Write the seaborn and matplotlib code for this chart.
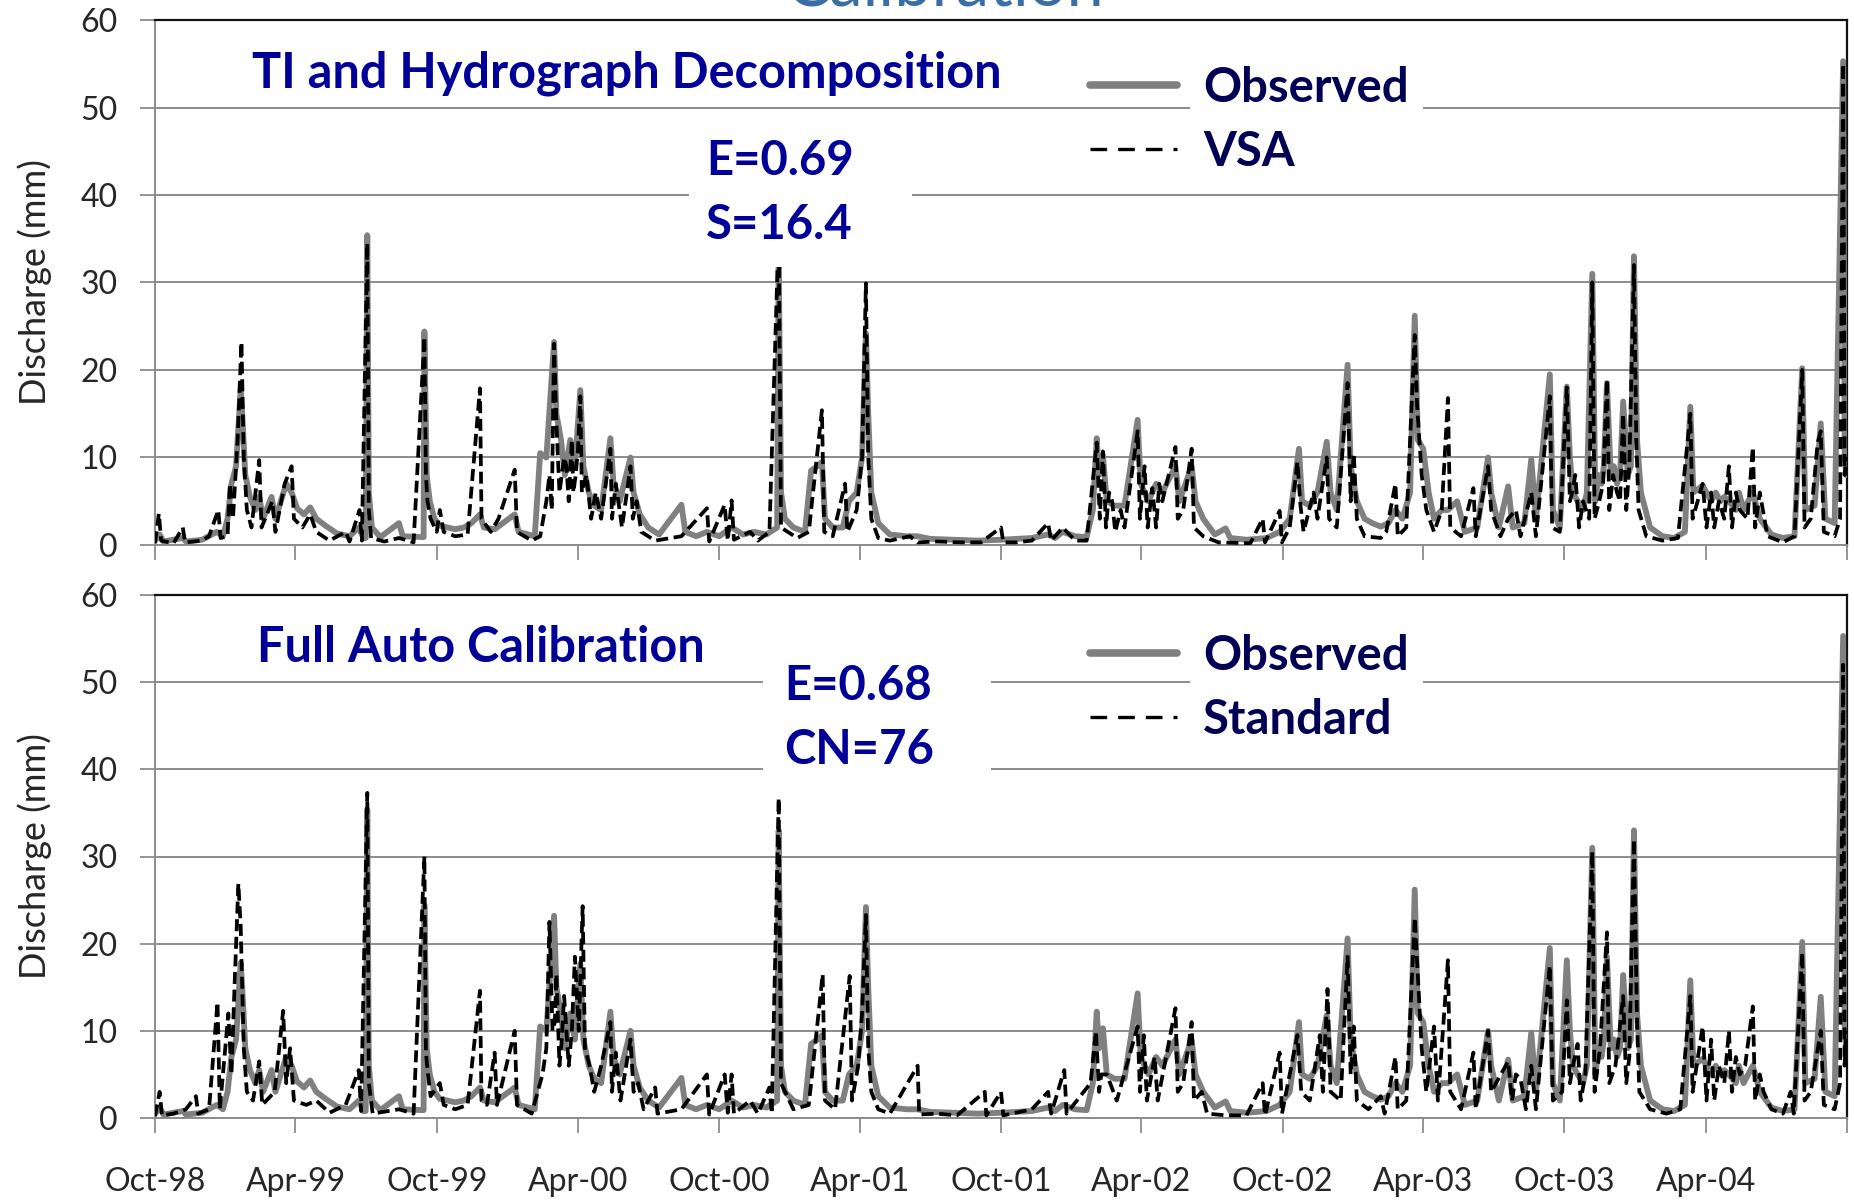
import matplotlib
matplotlib.use("Agg")
import matplotlib.pyplot as plt
import seaborn as sns
import pandas as pd
from matplotlib.patches import Rectangle
from matplotlib.lines import Line2D

# ---------------- data ----------------
observed = [
    ("1998-10-01", 0.5), ("1998-10-07", 1.2), ("1998-10-12", 0.4), ("1998-11-06", 0.8), ("1998-11-10", 0.4),
    ("1998-12-01", 0.6), ("1998-12-20", 1.5), ("1998-12-28", 1.0),
    ("1999-01-03", 3.0), ("1999-01-08", 7.0), ("1999-01-14", 9.0), ("1999-01-20", 17.8), ("1999-01-22", 15.0),
    ("1999-01-26", 8.0), ("1999-02-01", 5.5), ("1999-02-08", 4.0), ("1999-02-13", 5.5), ("1999-02-18", 3.0),
    ("1999-03-01", 5.5), ("1999-03-06", 3.0), ("1999-03-20", 7.0), ("1999-03-27", 6.0), ("1999-04-03", 4.2),
    ("1999-04-12", 3.5), ("1999-04-20", 4.3), ("1999-04-28", 3.0), ("1999-05-10", 2.2), ("1999-05-25", 1.3),
    ("1999-06-10", 1.0), ("1999-06-22", 2.0), ("1999-06-28", 0.8), ("1999-07-01", 0.8), ("1999-07-03", 35.4),
    ("1999-07-05", 6.0), ("1999-07-09", 2.0), ("1999-07-20", 0.9), ("1999-08-13", 2.5), ("1999-08-18", 1.0),
    ("1999-09-14", 0.9), ("1999-09-15", 24.4), ("1999-09-18", 8.0), ("1999-09-22", 5.0), ("1999-09-28", 3.0),
    ("1999-10-05", 2.2), ("1999-10-15", 2.0), ("1999-10-25", 1.8), ("1999-11-05", 2.0), ("1999-11-15", 2.5),
    ("1999-11-26", 3.5), ("1999-12-01", 2.0), ("1999-12-15", 1.8),
    ("2000-01-10", 3.5), ("2000-01-15", 1.5), ("2000-02-05", 1.0), ("2000-02-12", 10.5), ("2000-02-20", 10.0),
    ("2000-03-01", 23.2), ("2000-03-04", 15.0), ("2000-03-10", 12.0), ("2000-03-15", 8.0), ("2000-03-22", 12.0),
    ("2000-03-28", 9.0), ("2000-04-04", 17.7), ("2000-04-08", 9.0), ("2000-04-15", 6.0), ("2000-04-22", 4.5),
    ("2000-05-01", 4.0), ("2000-05-13", 12.2), ("2000-05-17", 7.0), ("2000-05-25", 5.0), ("2000-06-08", 10.0),
    ("2000-06-12", 6.0), ("2000-06-20", 3.5), ("2000-07-01", 2.0), ("2000-07-15", 1.2), ("2000-08-13", 4.6),
    ("2000-08-18", 1.5), ("2000-09-01", 1.0), ("2000-09-15", 1.5), ("2000-10-01", 1.0), ("2000-10-17", 2.0),
    ("2000-11-01", 1.2), ("2000-11-15", 1.5), ("2000-12-01", 1.2), ("2000-12-15", 2.0), ("2000-12-17", 33.0),
    ("2000-12-20", 6.0), ("2000-12-25", 3.0),
    ("2001-01-05", 2.0), ("2001-01-20", 1.5), ("2001-01-28", 8.5), ("2001-02-05", 9.0), ("2001-02-11", 9.5),
    ("2001-02-15", 3.0), ("2001-02-25", 2.0), ("2001-03-10", 2.0), ("2001-03-18", 5.0), ("2001-03-28", 6.0),
    ("2001-04-04", 10.0), ("2001-04-09", 24.2), ("2001-04-12", 15.0), ("2001-04-16", 6.0), ("2001-04-25", 2.5),
    ("2001-05-10", 1.2), ("2001-06-01", 1.0), ("2001-06-15", 1.0), ("2001-07-01", 0.7), ("2001-08-01", 0.6),
    ("2001-09-01", 0.5), ("2001-10-01", 0.6), ("2001-10-20", 0.7), ("2001-11-10", 0.8), ("2001-12-01", 1.2),
    ("2001-12-10", 0.8), ("2001-12-20", 1.5),
    ("2002-01-05", 1.0), ("2002-01-20", 0.9), ("2002-01-28", 4.0), ("2002-02-02", 12.2), ("2002-02-05", 8.0),
    ("2002-02-10", 10.3), ("2002-02-15", 5.0), ("2002-02-25", 4.5), ("2002-03-10", 4.5), ("2002-03-27", 14.3),
    ("2002-03-31", 7.0), ("2002-04-10", 5.0), ("2002-04-20", 7.0), ("2002-04-28", 6.0), ("2002-05-15", 9.0),
    ("2002-05-20", 5.0), ("2002-06-05", 9.0), ("2002-06-10", 5.0), ("2002-06-20", 3.0), ("2002-07-05", 1.2),
    ("2002-07-19", 1.9), ("2002-07-25", 0.8), ("2002-08-15", 0.6), ("2002-09-10", 0.8), ("2002-09-27", 1.5),
    ("2002-10-10", 3.0), ("2002-10-22", 11.0), ("2002-10-26", 5.0), ("2002-11-05", 4.5), ("2002-11-15", 6.0),
    ("2002-11-27", 11.8), ("2002-12-02", 6.0), ("2002-12-10", 4.0), ("2002-12-24", 20.6), ("2002-12-28", 9.0),
    ("2003-01-05", 5.0), ("2003-01-15", 3.0), ("2003-01-25", 2.5), ("2003-02-05", 2.1), ("2003-02-15", 2.5),
    ("2003-02-24", 4.0), ("2003-03-05", 3.0), ("2003-03-15", 6.0), ("2003-03-21", 26.2), ("2003-03-25", 12.0),
    ("2003-04-01", 11.0), ("2003-04-08", 6.0), ("2003-04-15", 3.0), ("2003-04-25", 4.0), ("2003-05-03", 4.0),
    ("2003-05-15", 5.0), ("2003-05-25", 1.5), ("2003-06-10", 2.0), ("2003-06-24", 10.0), ("2003-06-28", 6.0),
    ("2003-07-08", 2.0), ("2003-07-20", 6.7), ("2003-07-26", 2.0), ("2003-08-10", 2.5), ("2003-08-19", 9.8),
    ("2003-08-25", 3.0), ("2003-09-12", 19.5), ("2003-09-16", 4.0), ("2003-09-25", 2.0), ("2003-10-04", 18.1),
    ("2003-10-08", 10.0), ("2003-10-12", 6.0), ("2003-10-18", 5.0), ("2003-10-25", 4.0), ("2003-10-30", 6.0),
    ("2003-11-06", 31.0), ("2003-11-10", 5.0), ("2003-11-14", 8.0), ("2003-11-18", 7.0), ("2003-11-21", 9.0),
    ("2003-11-25", 18.5), ("2003-11-30", 8.0), ("2003-12-04", 9.0), ("2003-12-08", 7.0), ("2003-12-12", 8.0),
    ("2003-12-16", 16.4), ("2003-12-22", 8.0), ("2003-12-26", 9.0), ("2003-12-30", 33.0),
    ("2004-01-03", 12.0), ("2004-01-08", 6.0), ("2004-01-20", 2.0), ("2004-02-05", 1.0), ("2004-02-20", 0.8),
    ("2004-03-05", 1.5), ("2004-03-12", 15.8), ("2004-03-16", 6.0), ("2004-03-28", 6.8), ("2004-04-08", 5.0),
    ("2004-04-14", 6.0), ("2004-04-20", 5.0), ("2004-04-25", 5.5), ("2004-05-01", 5.0), ("2004-05-10", 4.0),
    ("2004-05-14", 6.0), ("2004-05-20", 4.0), ("2004-06-01", 6.0),
    ("2004-06-10", 3.0), ("2004-06-25", 1.2), ("2004-07-10", 0.8), ("2004-07-25", 1.0), ("2004-08-04", 20.2),
    ("2004-08-08", 4.0), ("2004-08-20", 4.5), ("2004-08-28", 13.9), ("2004-09-03", 3.0), ("2004-09-15", 2.5),
    ("2004-09-26", 55.3), ("2004-09-28", 10.0), ("2004-09-30", 8.0),
]

vsa = [
    ("1998-10-01", 0.2), ("1998-10-06", 3.6), ("1998-10-09", 0.5), ("1998-10-25", 0.2), ("1998-11-06", 2.0),
    ("1998-11-09", 0.3), ("1998-12-01", 0.5), ("1998-12-10", 1.0), ("1998-12-22", 4.0), ("1998-12-25", 0.8),
    ("1999-01-03", 1.0), ("1999-01-06", 7.0), ("1999-01-10", 3.0), ("1999-01-16", 12.0), ("1999-01-21", 23.2),
    ("1999-01-24", 10.0), ("1999-01-28", 4.0), ("1999-02-03", 2.0), ("1999-02-13", 9.7), ("1999-02-16", 2.0),
    ("1999-03-02", 5.0), ("1999-03-06", 1.5), ("1999-03-18", 7.0), ("1999-03-27", 9.0), ("1999-03-30", 3.0),
    ("1999-04-10", 2.0), ("1999-04-20", 3.5), ("1999-04-28", 1.5), ("1999-05-15", 0.5), ("1999-06-05", 1.5),
    ("1999-06-10", 0.4), ("1999-06-23", 4.0), ("1999-06-26", 0.5), ("1999-07-03", 34.5), ("1999-07-05", 4.0),
    ("1999-07-08", 0.8), ("1999-07-25", 0.4), ("1999-08-13", 0.8), ("1999-09-01", 0.3), ("1999-09-15", 23.8),
    ("1999-09-17", 8.0), ("1999-09-19", 5.0), ("1999-09-23", 3.0), ("1999-10-01", 1.5), ("1999-10-05", 4.0),
    ("1999-10-10", 1.5), ("1999-10-25", 1.0), ("1999-11-10", 1.2), ("1999-11-26", 17.9), ("1999-11-28", 3.0),
    ("1999-12-10", 1.5), ("1999-12-20", 3.0),
    ("2000-01-10", 8.6), ("2000-01-13", 1.5), ("2000-02-01", 0.5), ("2000-02-12", 1.0), ("2000-02-20", 5.0),
    ("2000-02-24", 8.0), ("2000-02-27", 4.0),
    ("2000-03-01", 23.0), ("2000-03-04", 14.0), ("2000-03-08", 6.0), ("2000-03-14", 10.0), ("2000-03-17", 9.0),
    ("2000-03-20", 5.0), ("2000-03-24", 12.0), ("2000-03-26", 6.0), ("2000-03-29", 8.0), ("2000-04-01", 11.0),
    ("2000-04-04", 17.0), ("2000-04-06", 6.0), ("2000-04-12", 8.0),
    ("2000-04-18", 3.0), ("2000-04-24", 6.0), ("2000-05-01", 3.0), ("2000-05-13", 11.0), ("2000-05-15", 3.0),
    ("2000-05-20", 7.0), ("2000-05-28", 2.0), ("2000-06-08", 9.0), ("2000-06-11", 3.0), ("2000-06-16", 5.0),
    ("2000-06-22", 1.5), ("2000-07-10", 0.5), ("2000-08-13", 1.0), ("2000-09-15", 4.2), ("2000-09-18", 0.4),
    ("2000-10-08", 4.6), ("2000-10-12", 0.5), ("2000-10-17", 5.1), ("2000-10-20", 0.6), ("2000-11-10", 1.5),
    ("2000-11-20", 0.5), ("2000-12-05", 1.5), ("2000-12-17", 36.0), ("2000-12-20", 2.0),
    ("2001-01-10", 0.8), ("2001-01-25", 1.5), ("2001-02-11", 15.4), ("2001-02-14", 1.5), ("2001-02-25", 1.0),
    ("2001-03-13", 7.0), ("2001-03-16", 1.5), ("2001-03-28", 4.0), ("2001-04-04", 10.0), ("2001-04-09", 29.9),
    ("2001-04-12", 10.0), ("2001-04-16", 3.0), ("2001-04-25", 0.8), ("2001-05-10", 0.5), ("2001-06-05", 1.0),
    ("2001-06-15", 0.3), ("2001-07-10", 0.4), ("2001-08-10", 0.3), ("2001-09-05", 0.3), ("2001-10-01", 2.0),
    ("2001-10-04", 0.3), ("2001-10-20", 0.3), ("2001-11-10", 0.5), ("2001-12-01", 2.5), ("2001-12-05", 0.5),
    ("2001-12-20", 2.0),
    ("2002-01-05", 0.5), ("2002-01-20", 0.5), ("2002-02-02", 11.7), ("2002-02-06", 3.0), ("2002-02-10", 10.7),
    ("2002-02-14", 2.0), ("2002-02-18", 6.0), ("2002-02-22", 5.0), ("2002-02-26", 1.5), ("2002-03-05", 4.0),
    ("2002-03-10", 2.0), ("2002-03-27", 13.0),
    ("2002-03-30", 3.0), ("2002-04-05", 9.0), ("2002-04-09", 2.0), ("2002-04-15", 6.5), ("2002-04-20", 2.0),
    ("2002-04-24", 7.0), ("2002-04-28", 5.0), ("2002-05-15", 11.2), ("2002-05-18", 3.0), ("2002-05-25", 4.0),
    ("2002-06-05", 11.0),
    ("2002-06-08", 2.0), ("2002-06-20", 1.0), ("2002-07-10", 0.3), ("2002-08-20", 0.2), ("2002-09-05", 3.0),
    ("2002-09-08", 0.3), ("2002-09-27", 3.9), ("2002-09-30", 0.3), ("2002-10-10", 2.0), ("2002-10-20", 9.5),
    ("2002-10-24", 4.5), ("2002-10-28", 1.5), ("2002-11-10", 6.0), ("2002-11-15", 3.0), ("2002-11-20", 6.0),
    ("2002-11-27", 10.0), ("2002-11-30", 3.0), ("2002-12-10", 2.0), ("2002-12-24", 18.5), ("2002-12-28", 5.0),
    ("2003-01-01", 10.5), ("2003-01-05", 3.0), ("2003-01-15", 1.0), ("2003-02-05", 0.8), ("2003-02-12", 1.5),
    ("2003-02-24", 7.0), ("2003-02-27", 1.0), ("2003-03-10", 2.0), ("2003-03-21", 24.0), ("2003-03-24", 16.0),
    ("2003-03-30", 8.0), ("2003-04-05", 4.0), ("2003-04-15", 1.5), ("2003-04-25", 4.0), ("2003-05-03", 16.8),
    ("2003-05-06", 2.0), ("2003-05-20", 1.0), ("2003-06-05", 6.5), ("2003-06-08", 1.0), ("2003-06-24", 9.0),
    ("2003-06-28", 4.0), ("2003-07-10", 1.0), ("2003-07-20", 3.0), ("2003-07-30", 4.0), ("2003-08-05", 1.0),
    ("2003-08-19", 6.0), ("2003-08-25", 1.0), ("2003-09-12", 17.0), ("2003-09-15", 2.0), ("2003-09-25", 1.5),
    ("2003-10-04", 18.0), ("2003-10-08", 5.0), ("2003-10-11", 6.0), ("2003-10-15", 8.0), ("2003-10-20", 2.0),
    ("2003-10-25", 5.0), ("2003-11-02", 3.0), ("2003-11-06", 30.0),
    ("2003-11-09", 3.0), ("2003-11-15", 5.0), ("2003-11-20", 7.0), ("2003-11-25", 18.9), ("2003-11-28", 4.0),
    ("2003-12-03", 8.0), ("2003-12-08", 6.0), ("2003-12-12", 5.0),
    ("2003-12-16", 15.0), ("2003-12-20", 4.0), ("2003-12-24", 9.0), ("2003-12-30", 32.0),
    ("2004-01-02", 12.0), ("2004-01-05", 4.0), ("2004-01-15", 1.0), ("2004-02-05", 0.5), ("2004-02-25", 0.8),
    ("2004-03-12", 15.0), ("2004-03-15", 3.0), ("2004-03-28", 7.0), ("2004-04-02", 2.0), ("2004-04-08", 6.0),
    ("2004-04-12", 2.0), ("2004-04-18", 5.0), ("2004-04-25", 3.0), ("2004-05-01", 9.0), ("2004-05-05", 2.0),
    ("2004-05-10", 6.0), ("2004-05-15", 4.0), ("2004-05-25", 3.0), ("2004-06-01", 11.2),
    ("2004-06-04", 2.0), ("2004-06-10", 6.0), ("2004-06-20", 1.0), ("2004-07-10", 0.3), ("2004-07-25", 1.0),
    ("2004-08-04", 20.0),
    ("2004-08-07", 2.0), ("2004-08-15", 3.0), ("2004-08-24", 11.7), ("2004-08-28", 13.0), ("2004-09-01", 1.5),
    ("2004-09-15", 1.0), ("2004-09-22", 3.0), ("2004-09-26", 55.0), ("2004-09-28", 8.0), ("2004-09-30", 10.0),
]

standard = [
    ("1998-10-01", 0.2), ("1998-10-07", 3.0), ("1998-10-10", 0.3), ("1998-10-25", 0.5), ("1998-11-10", 1.0),
    ("1998-11-23", 2.5), ("1998-11-26", 0.5), ("1998-12-10", 1.0), ("1998-12-21", 13.3), ("1998-12-24", 1.0),
    ("1999-01-04", 12.0), ("1999-01-08", 5.0), ("1999-01-12", 15.0), ("1999-01-17", 26.9), ("1999-01-20", 22.0),
    ("1999-01-24", 8.0), ("1999-01-28", 3.0), ("1999-02-05", 2.0), ("1999-02-13", 6.5), ("1999-02-17", 1.5),
    ("1999-03-05", 3.0), ("1999-03-16", 12.3), ("1999-03-20", 4.0), ("1999-03-25", 8.0), ("1999-03-30", 2.0),
    ("1999-04-15", 1.5), ("1999-04-28", 2.0), ("1999-05-15", 0.6), ("1999-06-05", 1.5), ("1999-06-22", 5.5),
    ("1999-06-25", 0.8), ("1999-07-03", 37.3), ("1999-07-05", 4.0), ("1999-07-10", 0.5), ("1999-08-13", 1.0),
    ("1999-09-01", 0.5), ("1999-09-15", 30.0), ("1999-09-17", 7.5), ("1999-09-19", 5.5), ("1999-09-23", 2.5),
    ("1999-10-05", 4.0), ("1999-10-10", 1.5), ("1999-10-25", 1.0), ("1999-11-10", 1.5), ("1999-11-26", 14.6),
    ("1999-11-28", 2.0), ("1999-12-05", 1.5), ("1999-12-15", 7.5), ("1999-12-18", 1.5),
    ("2000-01-10", 10.0), ("2000-01-13", 1.5), ("2000-02-01", 0.5), ("2000-02-15", 5.0), ("2000-02-20", 8.0),
    ("2000-02-24", 22.5), ("2000-02-28", 10.0), ("2000-03-02", 11.0), ("2000-03-04", 16.5), ("2000-03-08", 6.0),
    ("2000-03-11", 9.0), ("2000-03-14", 14.0), ("2000-03-20", 6.0), ("2000-03-24", 10.0),
    ("2000-03-28", 18.5), ("2000-04-02", 10.0), ("2000-04-07", 24.3), ("2000-04-10", 8.0), ("2000-04-16", 6.0),
    ("2000-04-22", 3.0), ("2000-05-01", 6.0), ("2000-05-13", 11.0), ("2000-05-15", 3.0), ("2000-05-20", 7.5),
    ("2000-05-26", 2.0), ("2000-06-08", 9.0), ("2000-06-12", 3.0), ("2000-06-18", 4.0), ("2000-06-25", 1.0),
    ("2000-07-10", 3.5), ("2000-07-13", 0.5), ("2000-08-13", 1.0), ("2000-09-15", 5.0), ("2000-09-18", 0.4),
    ("2000-10-08", 5.0), ("2000-10-12", 0.6), ("2000-10-17", 5.0), ("2000-10-20", 0.5), ("2000-11-10", 2.0),
    ("2000-11-20", 0.5), ("2000-12-05", 3.5), ("2000-12-08", 0.5), ("2000-12-17", 36.7), ("2000-12-20", 4.0),
    ("2001-01-05", 1.0), ("2001-01-25", 1.5), ("2001-02-12", 16.5), ("2001-02-15", 2.0), ("2001-02-28", 1.0),
    ("2001-03-19", 16.3), ("2001-03-22", 2.0), ("2001-03-30", 6.0), ("2001-04-04", 12.0), ("2001-04-09", 23.3),
    ("2001-04-12", 8.0), ("2001-04-16", 3.0), ("2001-04-25", 1.0), ("2001-05-10", 0.5), ("2001-06-15", 6.0),
    ("2001-06-17", 0.4), ("2001-07-10", 0.5), ("2001-08-05", 0.3), ("2001-09-10", 3.0), ("2001-09-12", 0.3),
    ("2001-10-01", 3.0), ("2001-10-04", 0.3), ("2001-11-10", 1.0), ("2001-12-01", 3.0), ("2001-12-05", 0.5),
    ("2001-12-22", 5.5), ("2001-12-25", 0.5),
    ("2002-01-25", 4.0), ("2002-02-01", 10.0), ("2002-02-05", 3.0), ("2002-02-08", 5.0), ("2002-02-15", 5.0),
    ("2002-02-28", 2.0), ("2002-03-27", 10.5), ("2002-03-30", 3.0), ("2002-04-04", 9.5), ("2002-04-08", 2.0),
    ("2002-04-18", 7.0), ("2002-04-22", 2.0), ("2002-05-15", 12.6), ("2002-05-18", 3.0), ("2002-05-25", 4.0),
    ("2002-06-05", 11.0), ("2002-06-08", 2.0), ("2002-06-18", 3.0), ("2002-06-25", 0.5), ("2002-07-20", 0.3),
    ("2002-08-15", 0.3), ("2002-09-05", 4.0), ("2002-09-08", 0.3), ("2002-09-27", 7.5), ("2002-09-30", 0.5),
    ("2002-10-20", 9.5), ("2002-10-25", 3.0), ("2002-11-05", 2.0), ("2002-11-18", 9.5), ("2002-11-22", 3.0),
    ("2002-11-28", 14.8), ("2002-12-02", 3.0), ("2002-12-15", 2.0), ("2002-12-24", 18.5), ("2002-12-28", 5.0),
    ("2003-01-01", 10.5), ("2003-01-05", 2.0), ("2003-01-20", 1.0), ("2003-02-05", 2.5), ("2003-02-10", 0.5),
    ("2003-02-24", 7.0), ("2003-02-27", 1.0), ("2003-03-10", 2.0), ("2003-03-21", 23.0), ("2003-03-24", 18.0),
    ("2003-03-30", 8.0), ("2003-04-05", 3.0), ("2003-04-15", 10.5), ("2003-04-20", 2.0), ("2003-05-03", 18.1),
    ("2003-05-06", 3.0), ("2003-05-20", 1.0), ("2003-06-05", 7.5), ("2003-06-08", 1.0), ("2003-06-24", 10.0),
    ("2003-06-28", 3.0), ("2003-07-20", 6.5), ("2003-07-25", 2.0), ("2003-07-30", 5.0), ("2003-08-05", 4.5),
    ("2003-08-12", 1.0), ("2003-08-19", 6.0), ("2003-08-25", 1.0), ("2003-09-12", 17.5), ("2003-09-16", 2.0),
    ("2003-09-28", 3.0), ("2003-10-04", 13.5), ("2003-10-08", 4.0), ("2003-10-12", 6.0), ("2003-10-18", 8.5),
    ("2003-10-22", 2.0), ("2003-10-28", 5.0),
    ("2003-11-06", 30.6), ("2003-11-09", 3.0), ("2003-11-16", 8.0), ("2003-11-25", 21.3), ("2003-11-28", 4.0),
    ("2003-12-06", 6.0), ("2003-12-10", 9.0),
    ("2003-12-16", 14.0), ("2003-12-20", 4.0), ("2003-12-24", 7.0), ("2003-12-30", 32.0),
    ("2004-01-03", 11.0), ("2004-01-06", 3.0), ("2004-01-20", 1.0), ("2004-02-10", 0.5), ("2004-02-28", 1.0),
    ("2004-03-12", 14.0), ("2004-03-15", 3.0), ("2004-03-28", 10.5), ("2004-04-02", 2.0), ("2004-04-08", 9.0),
    ("2004-04-12", 2.0), ("2004-04-18", 6.0), ("2004-04-25", 4.0), ("2004-05-01", 10.0), ("2004-05-05", 3.0),
    ("2004-05-10", 7.0), ("2004-05-15", 5.0), ("2004-05-22", 6.0), ("2004-06-01", 12.8),
    ("2004-06-04", 2.0), ("2004-06-10", 5.0), ("2004-06-15", 3.0), ("2004-06-25", 1.0), ("2004-07-10", 0.5),
    ("2004-07-20", 3.0),
    ("2004-07-24", 0.5), ("2004-08-04", 19.0), ("2004-08-07", 2.0), ("2004-08-15", 3.0), ("2004-08-28", 10.0),
    ("2004-09-01", 1.5), ("2004-09-15", 1.0), ("2004-09-22", 4.0), ("2004-09-26", 52.0), ("2004-09-28", 6.0),
    ("2004-09-30", 10.0),
]

tick_labels = ["Oct-98", "Apr-99", "Oct-99", "Apr-00", "Oct-00", "Apr-01", "Oct-01",
               "Apr-02", "Oct-02", "Apr-03", "Oct-03", "Apr-04", ""]
y_ticks = [0, 10, 20, 30, 40, 50, 60]

panel_titles = ["TI and Hydrograph Decomposition", "Full Auto Calibration"]
panel_stats = ["E=0.69\nS=16.4", "E=0.68\nCN=76"]
model_names = ["VSA", "Standard"]


def to_df(points):
    d = pd.DataFrame(points, columns=["date", "q"])
    d["date"] = pd.to_datetime(d["date"])
    return d


obs_df = to_df(observed)
model_dfs = [to_df(vsa), to_df(standard)]

# ---------------- style ----------------
sns.set_theme(style="white")
plt.rcParams["font.family"] = ["Lato", "DejaVu Sans"]

W, H = 1854, 1200
fig = plt.figure(figsize=(W / 100, H / 100), dpi=100)

TITLE_BLUE = "#000099"
LEG_NAVY = "#000055"
GRID = "#8c8c8c"
TXT = "#262626"

# axes pixel boxes: (left, top, right, bottom)
boxes = [(155, 20, 1847, 545), (155, 595, 1847, 1118)]
stat_boxes = [(689, 125, 912, 267), (763, 648, 991, 786)]
stat_text_xy = [(706, 193), (784, 718)]
title_xy = [(252, 73), (257, 648)]
legend_top = [66, 634]

start = pd.Timestamp("1998-10-01")
end = pd.Timestamp("2004-10-01")
tick_dates = pd.date_range(start, end, freq="6MS")

for i, (l, t, r, b) in enumerate(boxes):
    ax = fig.add_axes([l / W, 1 - b / H, (r - l) / W, (b - t) / H])
    aw, ah = r - l, b - t

    sns.lineplot(data=obs_df, x="date", y="q", ax=ax, color="#808080", lw=4.2,
                 zorder=3, solid_capstyle="round", solid_joinstyle="round", legend=False)
    sns.lineplot(data=model_dfs[i], x="date", y="q", ax=ax, color="black", lw=2.7,
                 linestyle=(0, (3.2, 1.5)), zorder=4, legend=False)

    ax.set_xlim(start, end)
    ax.set_ylim(0, 60)
    ax.set_yticks(y_ticks)
    ax.set_yticklabels([str(v) for v in y_ticks], fontsize=23, color=TXT)
    ax.set_xticks(tick_dates)
    if i == 1:
        ax.set_xticklabels(tick_labels, fontsize=23, color=TXT)
    else:
        ax.set_xticklabels([""] * len(tick_dates))
    ax.tick_params(axis="both", which="major", direction="out", length=11, width=1.3,
                   color=GRID, left=True, bottom=True)
    ax.tick_params(axis="y", pad=16)
    ax.tick_params(axis="x", pad=24)
    ax.set_xlabel("")
    ax.set_ylabel("Discharge (mm)", fontsize=26, color=TXT)
    ax.yaxis.set_label_coords(-0.061, 0.5)

    ax.grid(axis="y", color=GRID, lw=1.4, zorder=0)
    ax.grid(axis="x", visible=False)
    ax.set_axisbelow(True)
    for side in ["left", "bottom"]:
        ax.spines[side].set_color(GRID)
        ax.spines[side].set_linewidth(1.4)
    for side in ["top", "right"]:
        ax.spines[side].set_color("#111111")
        ax.spines[side].set_linewidth(1.6)

    # white box with statistics
    x0, y0, x1, y1 = stat_boxes[i]
    ax.add_patch(Rectangle(((x0 - l) / aw, (b - y1) / ah), (x1 - x0) / aw, (y1 - y0) / ah,
                           transform=ax.transAxes, facecolor="white", edgecolor="none", zorder=6))
    sx, sy = stat_text_xy[i]
    ax.text((sx - l) / aw, (b - sy) / ah, panel_stats[i], transform=ax.transAxes,
            ha="left", va="center", fontsize=34, fontweight="bold", color=TITLE_BLUE,
            linespacing=1.55, zorder=7)

    tx, ty = title_xy[i]
    ax.text((tx - l) / aw, (b - ty) / ah, panel_titles[i], transform=ax.transAxes,
            ha="left", va="center", fontsize=35, fontweight="bold", color=TITLE_BLUE, zorder=7)

    handles = [Line2D([], [], color="#808080", lw=5.5, solid_capstyle="round"),
               Line2D([], [], color="black", lw=2.4, linestyle=(0, (5.0, 3.3)))]
    leg = ax.legend(handles, ["Observed", model_names[i]], loc="upper left",
                    bbox_to_anchor=((1090 - l) / aw, (b - legend_top[i]) / ah),
                    frameon=False, fontsize=34, handlelength=1.85, handletextpad=0.55,
                    labelspacing=0.42, borderpad=0, borderaxespad=0)
    leg.set_zorder(8)
    for txt in leg.get_texts():
        txt.set_color(LEG_NAVY)
        txt.set_fontweight("bold")
        txt.set_bbox(dict(facecolor="white", edgecolor="none", pad=10))

# the chart's main title, cut off by the top edge as in the reference
fig.text(0.51, 1 - 5 / H, "Calibration", ha="center", va="baseline", fontsize=48,
         color="#3a6ea5")

fig.savefig("out.png", dpi=100, facecolor="white")
